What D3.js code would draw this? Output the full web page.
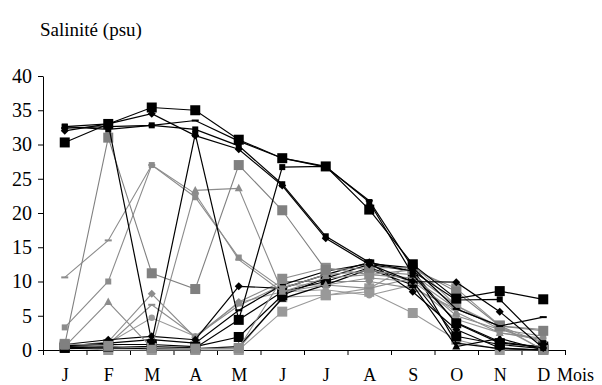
<!DOCTYPE html>
<html>
<head>
<meta charset="utf-8">
<script src="https://cdn.jsdelivr.net/npm/d3@7"></script>
<style>
  html, body { margin: 0; padding: 0; background: #fff; }
  svg { display: block; }
</style>
</head>
<body>
<svg id="chart" width="602" height="385"></svg>
<script>
// Month labels along the x axis
const months = ["J", "F", "M", "A", "M", "J", "J", "A", "S", "O", "N", "D"];
const yTicks = [0, 5, 10, 15, 20, 25, 30, 35, 40];

// Monthly salinity (psu) per station
const marineA   = [30.3, 33.0, 35.4, 35.0, 30.7, 28.0, 26.8, 20.5, 12.5, 7.5, 8.6, 7.4];
const marineB   = [32.0, 33.0, 34.5, 31.3, 29.3, 24.0, 16.3, 12.5, 10.0, 9.9, 5.6, 0.3];
const marineC   = [32.6, 32.2, 32.8, 32.2, 29.8, 24.2, 16.6, 12.8, 11.5, 7.3, 7.4, 1.0];
const marineD   = [32.4, 32.6, 32.8, 33.5, 30.5, 28.0, 26.7, 21.8, 12.0, 6.0, 3.5, 4.8];
const swinging  = [32.6, 33.0, 1.2, 31.5, 4.4, 26.7, 26.8, 21.6, 11.0, 4.0, 1.2, 0.3];
const lowBlk1   = [0.8, 1.5, 2.0, 1.5, 9.3, 9.0, 11.0, 12.8, 8.5, 3.0, 0.3, 0.0];
const lowBlk2   = [0.5, 0.8, 0.8, 0.5, 1.9, 8.0, 10.5, 12.5, 11.5, 3.9, 1.0, 0.5];
const lowBlk3   = [0.3, 0.5, 0.5, 0.3, 4.4, 8.5, 10.0, 12.0, 10.0, 2.0, 0.8, 0.2];
const lowBlk4   = [0.6, 1.0, 1.5, 1.0, 5.8, 9.5, 11.5, 12.6, 12.0, 1.0, 0.2, 0.0];
const lowBlk5   = [0.2, 0.3, 0.2, 0.2, 0.5, 7.5, 9.5, 11.8, 9.5, 0.5, 1.7, 0.0];
const grayA     = [0.8, 31.0, 11.2, 8.9, 27.0, 20.4, 11.7, 12.0, 12.0, 8.5, 3.5, 2.8];
const grayB     = [3.3, 10.0, 27.0, 22.3, 13.5, 9.0, 11.0, 11.5, 11.0, 6.5, 3.0, 2.0];
const grayC     = [10.6, 16.0, 27.0, 22.8, 13.2, 8.5, 10.5, 11.0, 10.5, 6.0, 3.5, 3.0];
const grayD     = [0.5, 7.0, 0.3, 23.3, 23.6, 8.5, 9.5, 10.5, 10.0, 5.5, 2.5, 1.5];
const grayE     = [0.5, 1.2, 8.2, 1.8, 7.0, 10.0, 10.0, 10.0, 9.0, 6.0, 3.5, 1.0];
const grayF     = [0.3, 0.8, 6.6, 2.0, 6.5, 9.5, 9.5, 9.0, 10.5, 5.0, 3.0, 1.2];
const grayG     = [0.4, 1.0, 4.7, 2.0, 6.9, 8.5, 8.8, 8.0, 9.5, 4.5, 2.5, 1.7];
const grayH     = [0.3, 0.0, 0.0, 0.0, 0.0, 5.6, 8.0, 8.5, 5.4, 1.5, 0.0, 0.0];
const grayI     = [0.5, 0.3, 0.2, 0.2, 0.2, 7.7, 8.0, 9.0, 12.5, 6.5, 3.4, 0.0];
const grayJ     = [0.9, 0.6, 0.3, 0.2, 0.3, 10.4, 12.0, 11.0, 11.7, 9.0, 3.6, 0.0];

// Series table: values, colour and marker shape
const series = [
  { values: grayH,    color: "#999999", marker: "bigsq" },
  { values: grayI,    color: "#999999", marker: "bigsq" },
  { values: grayG,    color: "#999999", marker: "circ" },
  { values: grayF,    color: "#8c8c8c", marker: "dash" },
  { values: grayE,    color: "#8c8c8c", marker: "diamond" },
  { values: lowBlk5,  color: "#000000", marker: "tri" },
  { values: lowBlk3,  color: "#000000", marker: "bigsq" },
  { values: lowBlk2,  color: "#000000", marker: "bigsq" },
  { values: lowBlk4,  color: "#000000", marker: "dash" },
  { values: lowBlk1,  color: "#000000", marker: "diamond" },
  { values: grayD,    color: "#8c8c8c", marker: "tri" },
  { values: grayC,    color: "#8c8c8c", marker: "dash" },
  { values: grayB,    color: "#8c8c8c", marker: "sq" },
  { values: grayJ,    color: "#8c8c8c", marker: "bigsq" },
  { values: grayA,    color: "#808080", marker: "bigsq" },
  { values: swinging, color: "#000000", marker: "sq" },
  { values: marineD,  color: "#000000", marker: "dash" },
  { values: marineC,  color: "#000000", marker: "sq" },
  { values: marineB,  color: "#000000", marker: "diamond" },
  { values: marineA,  color: "#000000", marker: "bigsq" }
];

const svg = d3.select("#chart");
const plotLeft = 43, plotRight = 565, plotTop = 76, plotBottom = 350;
const serif = "'Liberation Serif', 'Times New Roman', serif";

const x = d3.scaleLinear().domain([0, months.length]).range([plotLeft, plotRight]);
const y = d3.scaleLinear().domain([0, 40]).range([plotBottom, plotTop]);
const cx = i => x(i + 0.5);

// Title
svg.append("text")
  .attr("x", 40).attr("y", 36)
  .style("font-family", serif).style("font-size", "19px")
  .text("Salinité (psu)");

// Y axis
const yAxis = svg.append("g")
  .attr("transform", `translate(${plotLeft},0)`)
  .call(d3.axisLeft(y).tickValues(yTicks).tickSize(5).tickSizeOuter(0).tickPadding(6));
yAxis.selectAll("text").attr("fill", "#000")
  .style("font-family", serif).style("font-size", "20px");
yAxis.selectAll("line, path").attr("stroke", "#000");

// X axis: tick marks between months
const xAxis = svg.append("g")
  .attr("transform", `translate(0,${plotBottom})`)
  .call(d3.axisBottom(x).tickValues(d3.range(months.length + 1)).tickFormat("").tickSize(5).tickSizeOuter(0));
xAxis.selectAll("line, path").attr("stroke", "#000");

// Month labels centred in each interval
const xLabels = svg.append("g")
  .attr("transform", `translate(0,${plotBottom})`)
  .call(d3.axisBottom(x)
    .tickValues(d3.range(months.length).map(i => i + 0.5))
    .tickFormat((d, i) => months[i])
    .tickSize(0).tickPadding(0));
xLabels.select("path").remove();
xLabels.selectAll("text").attr("fill", "#000")
  .attr("dy", null).attr("y", 31)
  .style("font-family", serif).style("font-size", "18px");

svg.append("text")
  .attr("x", 557).attr("y", plotBottom + 31)
  .style("font-family", serif).style("font-size", "18px")
  .text("Mois");

// Lines and markers
const line = d3.line().x((d, i) => cx(i)).y(d => y(d));

function drawMarker(g, kind, px, py, color) {
  if (kind === "bigsq") {
    g.append("rect").attr("x", px - 5).attr("y", py - 5).attr("width", 10).attr("height", 10).attr("fill", color);
  } else if (kind === "sq") {
    g.append("rect").attr("x", px - 3).attr("y", py - 3).attr("width", 6).attr("height", 6).attr("fill", color);
  } else if (kind === "diamond") {
    g.append("path").attr("d", `M${px},${py - 4}L${px + 4},${py}L${px},${py + 4}L${px - 4},${py}Z`).attr("fill", color);
  } else if (kind === "tri") {
    g.append("path").attr("d", `M${px},${py - 4.5}L${px + 4},${py + 3}L${px - 4},${py + 3}Z`).attr("fill", color);
  } else if (kind === "circ") {
    g.append("circle").attr("cx", px).attr("cy", py).attr("r", 3.2).attr("fill", color);
  } else if (kind === "dash") {
    g.append("rect").attr("x", px - 3.5).attr("y", py - 1).attr("width", 7).attr("height", 2).attr("fill", color);
  }
}

const plot = svg.append("g");
series.forEach(s => {
  const g = plot.append("g");
  g.append("path")
    .attr("d", line(s.values))
    .attr("fill", "none")
    .attr("stroke", s.color)
    .attr("stroke-width", s.color === "#000000" ? 1.2 : 1.1);
  s.values.forEach((v, i) => drawMarker(g, s.marker, cx(i), y(v), s.color));
});
</script>
</body>
</html>
